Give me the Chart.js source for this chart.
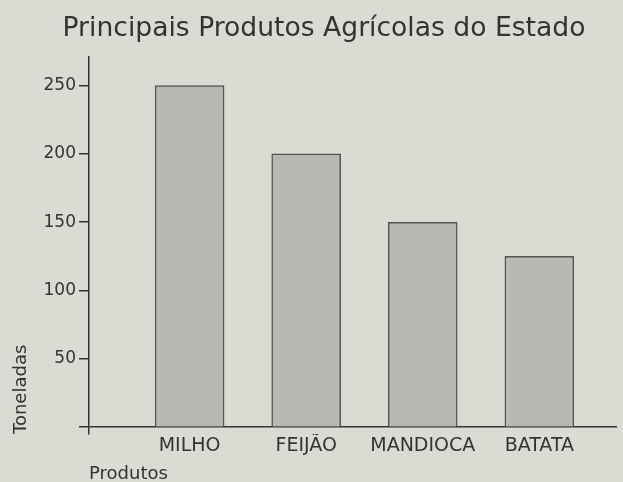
<!DOCTYPE html>
<html>
<head>
<meta charset="utf-8">
<script src="https://cdn.jsdelivr.net/npm/chart.js@4/dist/chart.umd.min.js"></script>
<style>
  html, body { margin: 0; padding: 0; background: #dcdbd3; }
  #wrap { width: 623px; height: 482px; }
</style>
</head>
<body>
<div id="wrap"><canvas id="c" width="623" height="482"></canvas></div>
<script>
// ---- data ----
const chartTitle = 'Principais Produtos Agrícolas do Estado';
const categories = ['MILHO', 'FEIJÃO', 'MANDIOCA', 'BATATA'];
const toneladas = [250, 200, 150, 125];
const yTickValues = [0, 50, 100, 150, 200, 250];
const yAxisTitle = 'Toneladas';
const xAxisTitle = 'Produtos';

// halftone-like fill pattern
function makePattern() {
  const p = document.createElement('canvas');
  p.width = 4; p.height = 4;
  const g = p.getContext('2d');
  g.fillStyle = '#b9b8b2';
  g.fillRect(0, 0, 4, 4);
  g.fillStyle = '#a9a8a2';
  g.fillRect(0, 0, 1, 1); g.fillRect(2, 2, 1, 1);
  g.fillStyle = '#c6c5bf';
  g.fillRect(2, 0, 1, 1); g.fillRect(0, 2, 1, 1);
  return document.getElementById('c').getContext('2d').createPattern(p, 'repeat');
}

const ink = '#333333';
const font = 'DejaVu Sans';

new Chart(document.getElementById('c'), {
  type: 'bar',
  data: {
    datasets: [{
      data: categories.map((c, i) => ({ x: i, y: toneladas[i] })),
      backgroundColor: makePattern(),
      borderColor: '#55544f',
      borderWidth: 1.5,
      barThickness: 69
    }]
  },
  options: {
    responsive: false,
    animation: false,
    layout: { padding: { left: 31, right: 6, top: 0, bottom: 0 } },
    plugins: {
      legend: { display: false },
      tooltip: { enabled: false },
      title: {
        display: true,
        text: chartTitle,
        color: ink,
        font: { family: font, size: 26.6, weight: 'normal' },
        padding: { top: 13, bottom: 12 }
      }
    },
    scales: {
      x: {
        type: 'linear',
        offset: false,
        min: -0.863,
        max: 3.666,
        afterBuildTicks: (s) => { s.ticks = categories.map((c, i) => ({ value: i })); },
        afterFit: (s) => { s.height = 48; },
        ticks: {
          callback: (v) => categories[v] ?? '',
          color: ink,
          font: { family: font, size: 19 },
          padding: -7,
          maxRotation: 0,
          autoSkip: false
        },
        grid: { display: false },
        border: { display: false },
        title: {
          display: true,
          text: xAxisTitle,
          align: 'start',
          color: ink,
          font: { family: font, size: 18 },
          padding: { top: 0, bottom: -3 }
        }
      },
      y: {
        min: -5,
        max: 271,
        z: 1,
        afterBuildTicks: (s) => { s.ticks = yTickValues.map(v => ({ value: v })); },
        afterFit: (s) => { s.width = 58; },
        ticks: {
          callback: (v) => (v === 0 ? '' : String(v)),
          color: ink,
          font: { family: font, size: 17 },
          padding: 3
        },
        grid: {
          drawOnChartArea: true,
          drawTicks: true,
          tickLength: 10,
          tickColor: ink,
          tickWidth: 1.5,
          color: (ctx) => (ctx.tick && ctx.tick.value === 0 ? ink : 'rgba(0,0,0,0)'),
          lineWidth: 1.5
        },
        border: { display: true, color: ink, width: 1.5 },
        title: {
          display: true,
          text: yAxisTitle,
          align: 'start',
          color: ink,
          font: { family: font, size: 18 },
          padding: { top: -20, bottom: 0 }
        }
      }
    }
  }
});
</script>
</body>
</html>
